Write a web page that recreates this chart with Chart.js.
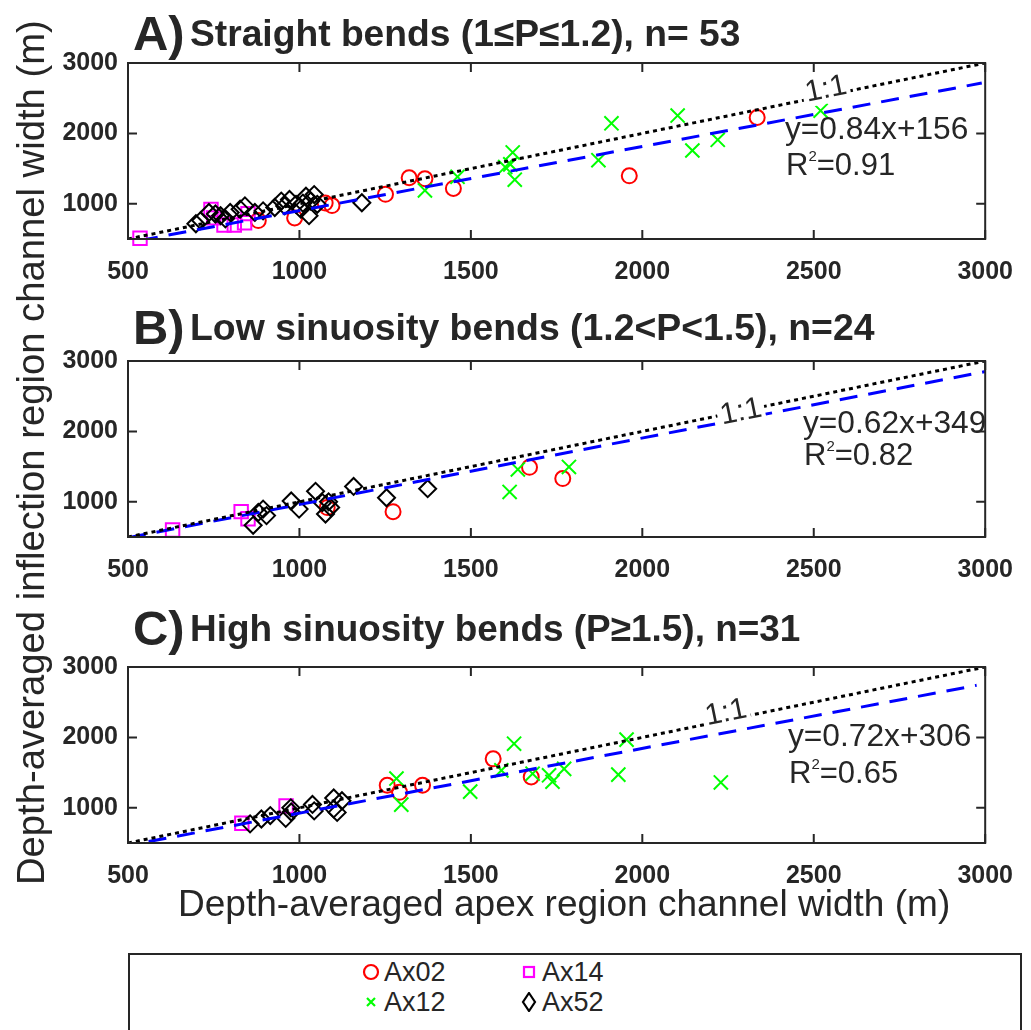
<!DOCTYPE html>
<html>
<head>
<meta charset="utf-8">
<script src="https://cdn.jsdelivr.net/npm/chart.js@4.4.1/dist/chart.umd.min.js"></script>
<style>
  html, body { margin: 0; padding: 0; background: #fff; }
  #fig { position: relative; width: 1031px; height: 1030px; overflow: hidden;
         font-family: "Liberation Sans", Arial, sans-serif; color: #262626; }
  #fig canvas { position: absolute; left: 0; }
  .t { position: absolute; white-space: nowrap; line-height: 1; transform-origin: 0 0; }
  .b { font-weight: bold; }
  #legend { position: absolute; left: 128px; top: 953px; width: 894px; height: 100px;
            border: 2px solid #262626; box-sizing: border-box; }
  .lg { position: absolute; white-space: nowrap; line-height: 1; font-size: 27px; }
  #legend svg { position: absolute; }
</style>
</head>
<body>
<div id="fig">
  <canvas id="cA" width="1031" height="246" style="top:38px"></canvas>
  <canvas id="cB" width="1031" height="246" style="top:336px"></canvas>
  <canvas id="cC" width="1031" height="246" style="top:642px"></canvas>
  <div id="legend"></div>
</div>
<script>
"use strict";
// Width of inflection vs apex region, three sinuosity classes (A, B, C).

const X_TICKS = [500, 1000, 1500, 2000, 2500, 3000];
const Y_TICKS = [1000, 2000, 3000];

const PANEL_LETTERS = ["A)", "B)", "C)"];
const PANEL_TITLES = [
  "Straight bends (1≤P≤1.2), n= 53",
  "Low sinuosity bends (1.2<P<1.5), n=24",
  "High sinuosity bends (P≥1.5), n=31",
];
const EQUATIONS = ["y=0.84x+156", "y=0.62x+349", "y=0.72x+306"];
const R2_VALUES = ["0.91", "0.82", "0.65"];
const SERIES_NAMES = ["Ax02", "Ax12", "Ax14", "Ax52"];

// [apex width, inflection width] in m
const A_AX02 = [[1962,1398],[2335,2226],[1320,1370],[1366,1356],[1251,1135],[1449,1218],[1075,1010],[1095,975],[986,800],[880,762]];
const A_AX12 = [[1910,2143],[2103,2254],[2146,1757],[2220,1909],[1872,1619],[2520,2323],[1622,1729],[1600,1522],[1615,1560],[1628,1342],[1461,1384],[1366,1190]];
const A_AX14 = [[535,510],[742,920],[750,800],[780,700],[810,700],[840,730],[850,860]];
const A_AX52 = [[698,717],[712,762],[736,877],[755,855],[770,831],[784,786],[798,877],[827,924],[841,970],[870,877],[894,900],[928,947],[947,1039],[957,970],[971,1062],[990,993],[1004,924],[1010,1010],[1019,1108],[1028,831],[1033,1039],[1043,1131],[1052,993],[1182,1015]];

const B_AX02 = [[1081,918],[1273,860],[1671,1490],[1768,1330]];
const B_AX12 = [[1613,1140],[1637,1460],[1786,1495]];
const B_AX14 = [[630,600],[830,860],[850,760]];
const B_AX52 = [[865,666],[880,850],[894,896],[904,804],[976,1011],[999,896],[1047,1149],[1067,988],[1076,827],[1085,1000],[1091,919],[1158,1218],[1254,1057],[1374,1186]];

const C_AX02 = [[1256,1320],[1292,1220],[1359,1320],[1565,1695],[1676,1439]];
const C_AX12 = [[1283,1416],[1297,1045],[1498,1230],[1589,1532],[1626,1910],[1680,1485],[1728,1462],[1738,1370],[1772,1553],[1930,1471],[1954,1968],[2229,1360]];
const C_AX14 = [[832,781],[961,1025]];
const C_AX52 = [[856,772],[889,841],[915,890],[960,850],[976,940],[975,1000],[1038,1048],[1043,956],[1100,1139],[1100,985],[1124,1100],[1110,935]];

const ONE_TO_ONE = [[500,500],[3000,3000]];
const A_FIT = [[535,480],[2990,2715]];
const B_FIT = [[500,490],[3000,2850]];
const C_FIT = [[560,520],[2975,2740]];
const ONE_LABEL_X = [2539, 2287, 2248];

Chart.defaults.font.family = '"Liberation Sans", Arial, sans-serif';
Chart.defaults.color = "#262626";

const xy = (rows) => rows.map(([x, y]) => ({ x, y }));
const INK = "#262626";
// plot box inside each 1031x246 canvas
const AREA = { left: 128, right: 997, top: 20, bottom: 201 };

// box, inward ticks on all four sides, and the inline "1:1" label
const framePlugin = {
  id: "frame",
  afterDatasetsDraw(chart, args, opts) {
    const { ctx, chartArea: a, scales: { x, y } } = chart;
    ctx.save();
    const x0 = x.getPixelForValue(500), x1 = x.getPixelForValue(3000);
    const ang = Math.atan2(y.getPixelForValue(3000) - y.getPixelForValue(500), x1 - x0);
    const lx = x.getPixelForValue(opts.labelX), ly = y.getPixelForValue(opts.labelX);
    ctx.translate(lx, ly);
    ctx.rotate(ang);
    ctx.font = '30px "Liberation Sans", Arial, sans-serif';
    const w = ctx.measureText("1:1").width;
    ctx.fillStyle = "#fff";
    ctx.fillRect(-w / 2 - 3, opts.labelDy - 15, w + 6, 30);
    ctx.fillStyle = INK;
    ctx.textAlign = "center";
    ctx.textBaseline = "middle";
    ctx.fillText("1:1", 0, opts.labelDy + 1);
    ctx.restore();

    ctx.save();
    ctx.strokeStyle = INK;
    ctx.lineWidth = 2;
    ctx.strokeRect(a.left, a.top, a.right - a.left, a.bottom - a.top);
    ctx.beginPath();
    for (const v of X_TICKS) {
      const px = x.getPixelForValue(v);
      ctx.moveTo(px, a.bottom); ctx.lineTo(px, a.bottom - 9);
      ctx.moveTo(px, a.top); ctx.lineTo(px, a.top + 9);
    }
    for (const v of Y_TICKS) {
      const py = y.getPixelForValue(v);
      ctx.moveTo(a.left, py); ctx.lineTo(a.left + 9, py);
      ctx.moveTo(a.right, py); ctx.lineTo(a.right - 9, py);
    }
    ctx.stroke();
    ctx.restore();
  },
};

function panel(id, ax02, ax12, ax14, ax52, fit, labelX, labelDy) {
  const pts = (data, style, r, color) => ({
    type: "scatter", data: xy(data), pointStyle: style, pointRadius: r,
    borderColor: color, backgroundColor: "rgba(0,0,0,0)", pointBorderWidth: 2,
    clip: false, order: 2,
  });
  const plain = (v) => String(v);
  const chart = new Chart(document.getElementById(id), {
    type: "scatter",
    data: {
      datasets: [
        pts(ax52, "rectRot", 8.5, "#000000"),
        pts(ax14, "rect", 9.5, "#ff00ff"),
        pts(ax12, "crossRot", 10, "#00ff00"),
        pts(ax02, "circle", 7.5, "#ff0000"),
        { type: "line", data: xy(fit), borderColor: "#0000ff", borderWidth: 3,
          borderDash: [18, 11], pointRadius: 0, order: 1 },
        { type: "line", data: xy(ONE_TO_ONE), borderColor: "#000000", borderWidth: 3,
          borderDash: [4, 4], pointRadius: 0, order: 0 },
      ],
    },
    options: {
      responsive: false, animation: false, events: [],
      layout: { autoPadding: false, padding: { top: AREA.top, right: 1031 - AREA.right, left: 0, bottom: 0 } },
      plugins: { legend: { display: false }, tooltip: { enabled: false },
                 frame: { labelX, labelDy } },
      scales: {
        x: {
          type: "linear", min: 500, max: 3000,
          afterBuildTicks: (s) => { s.ticks = X_TICKS.map((v) => ({ value: v })); },
          afterFit: (s) => { s.height = 45; },
          grid: { display: false, drawTicks: false }, border: { display: false },
          ticks: { padding: 18, color: INK, font: { size: 25, weight: "bold" }, maxRotation: 0, callback: plain },
        },
        y: {
          type: "linear", min: 500, max: 3000,
          afterBuildTicks: (s) => { s.ticks = Y_TICKS.map((v) => ({ value: v })); },
          afterFit: (s) => { s.width = AREA.left; },
          grid: { display: false, drawTicks: false }, border: { display: false },
          ticks: { padding: 10, color: INK, font: { size: 25, weight: "bold" }, callback: plain },
        },
      },
    },
    plugins: [framePlugin],
  });
  // nudge padding so the plot box lands on the measured pixels
  const a = chart.chartArea, p = chart.options.layout.padding;
  const dR = a.right - AREA.right, dT = AREA.top - a.top, dB = a.bottom - AREA.bottom, dL = AREA.left - a.left;
  if (dR || dT || dB || dL) {
    p.right += dR; p.top += dT; p.bottom += dB; p.left += dL;
    chart.update();
  }
  return chart;
}

panel("cA", A_AX02, A_AX12, A_AX14, A_AX52, A_FIT, ONE_LABEL_X[0], -7);
panel("cB", B_AX02, B_AX12, B_AX14, B_AX52, B_FIT, ONE_LABEL_X[1], 0);
panel("cC", C_AX02, C_AX12, C_AX14, C_AX52, C_FIT, ONE_LABEL_X[2], -8);

// ---- text laid out in HTML, each piece stretched to its measured width ----
const fig = document.getElementById("fig");
function text(content, cls, size, left, capY, width, rotate, asHtml) {
  const el = document.createElement("div");
  el.className = "t " + cls;
  el.style.fontSize = size + "px";
  if (asHtml) el.innerHTML = content; else el.textContent = content;
  fig.appendChild(el);
  const k = width / el.offsetWidth;
  if (rotate) {
    el.style.left = (capY - 0.4885 * size) + "px";   // capY = x of glyph centre line
    el.style.top = left + "px";                       // left = bottom end of the text
    el.style.transform = `rotate(-90deg) scaleX(${k})`;
  } else {
    el.style.left = left + "px";
    el.style.top = (capY - 0.4885 * size) + "px";
    el.style.transform = `scaleX(${k})`;
  }
  return el;
}

const TITLE_Y = [33, 327, 628];
const TITLE_W = [550, 685, 610];
PANEL_LETTERS.forEach((l, i) => {
  text(l, "b", 48, 133, TITLE_Y[i], 52);
  text(PANEL_TITLES[i], "b", 37, 190, TITLE_Y[i], TITLE_W[i]);
});

const EQ_POS = [[785, 128, 163], [803, 422, 453], [788, 735, 771]];
EQUATIONS.forEach((e, i) => {
  const [lx, y1, y2] = EQ_POS[i];
  text(e, "", 31, lx, y1, 183);
  text("R<span style='font-size:15px;vertical-align:14px'>2</span>=" + R2_VALUES[i], "", 31, lx + 1, y2, 109, false, true);
});

text("Depth-averaged apex region channel width (m)", "", 37, 178, 903, 772);
text("Depth-averaged inflection region channel width (m)", "", 38, 885, 31, 865, true);

// ---- legend box ----
const MARKERS = [
  "<circle cx='10' cy='10' r='7' fill='none' stroke='#ff0000' stroke-width='2.2'/>",
  "<path d='M6 6 L14 14 M14 6 L6 14' stroke='#00ff00' stroke-width='2.2'/>",
  "<rect x='5' y='5' width='10' height='10' fill='none' stroke='#ff00ff' stroke-width='2.2'/>",
  "<path d='M10 1 L16 10 L10 19 L4 10 Z' fill='none' stroke='#000' stroke-width='2.2'/>",
];
const LEG_POS = [[371, 972], [371, 1002], [529, 972], [529, 1002]];
const legend = document.getElementById("legend");
SERIES_NAMES.forEach((name, i) => {
  const [mx, my] = LEG_POS[i];
  legend.insertAdjacentHTML("beforeend",
    `<svg width="20" height="20" style="left:${mx - 10 - 130}px;top:${my - 10 - 955}px">${MARKERS[i]}</svg>`);
  const t = document.createElement("div");
  t.className = "lg";
  t.textContent = name;
  t.style.left = (mx + 13 - 130) + "px";
  t.style.top = (my - 0.4885 * 27 - 955) + "px";
  legend.appendChild(t);
});
</script>
</body>
</html>
